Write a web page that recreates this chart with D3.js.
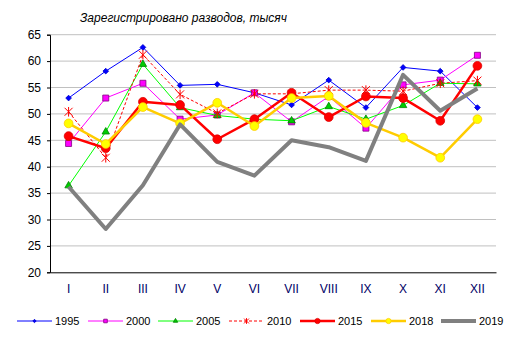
<!DOCTYPE html>
<html><head><meta charset="utf-8">
<script src="https://cdn.jsdelivr.net/npm/d3@7/dist/d3.min.js"></script>
<style>body{margin:0;background:#fff}svg{display:block;font-family:"Liberation Sans",Arial,sans-serif}</style>
</head><body><svg id="c" width="511" height="340"></svg>
<script>
const months = ["I","II","III","IV","V","VI","VII","VIII","IX","X","XI","XII"];
const yTicks = [20,25,30,35,40,45,50,55,60,65];
const years = ["1995","2000","2005","2010","2015","2018","2019"];
const v1995 = [53.0,58.1,62.6,55.4,55.6,54.0,51.7,56.4,51.2,58.8,58.1,51.2];
const v2000 = [44.4,53.0,55.8,49.0,49.8,54.0,48.5,53.3,47.3,55.5,56.4,61.1];
const v2005 = [36.4,46.6,59.4,51.2,49.7,49.0,48.7,51.4,49.0,51.6,55.8,55.7];
const v2010 = [50.4,41.7,61.2,53.7,50.1,53.8,53.8,54.5,54.5,54.3,55.8,56.3];
const v2015 = [45.8,43.5,52.3,51.7,45.2,49.0,54.0,49.4,53.3,53.0,48.7,59.1];
const v2018 = [48.2,44.3,51.3,48.2,52.1,47.7,53.0,53.4,48.3,45.5,41.7,49.0];
const v2019 = [36.2,28.2,36.5,48.0,40.9,38.3,45.0,43.7,41.1,57.4,50.6,54.8];

const series = [
  {name:years[0], values:v1995, color:"#0000ff", width:1, dash:null, marker:"diamond", fill:"#0000ff", stroke:"#0000cc", size:16},
  {name:years[1], values:v2000, color:"#ff00ff", width:1, dash:null, marker:"square", fill:"#ff00ff", stroke:"#800080", size:36},
  {name:years[2], values:v2005, color:"#00ff00", width:1, dash:null, marker:"triangle", fill:"#00cc00", stroke:"#008000", size:24},
  {name:years[3], values:v2010, color:"#ff0000", width:1, dash:"3,2", marker:"asterisk", fill:"none", stroke:"#ff0000", size:0},
  {name:years[4], values:v2015, color:"#ff0000", width:2.5, dash:null, marker:"circle", fill:"#ff0000", stroke:"#dd0000", size:60},
  {name:years[5], values:v2018, color:"#ffcc00", width:2.5, dash:null, marker:"circle", fill:"#ffff00", stroke:"#ffcc00", size:60},
  {name:years[6], values:v2019, color:"#808080", width:4, dash:null, marker:null}
];

const svg = d3.select("#c");
const m = {left:50, right:496, top:34.7, bottom:272.3};
const x = d3.scaleBand().domain(months).range([m.left, m.right]);
const y = d3.scaleLinear().domain([20,65]).range([m.bottom, m.top]);
const cx = d => x(d) + x.bandwidth()/2;

// horizontal gridlines
svg.append("g").selectAll("line").data(yTicks.filter(t=>t>20)).join("line")
  .attr("x1", m.left).attr("x2", m.right)
  .attr("y1", d=>y(d)).attr("y2", d=>y(d))
  .attr("stroke","#c0c0c0").attr("stroke-width",1);

// axes
const ya = svg.append("g").attr("transform",`translate(${m.left},0)`)
  .call(d3.axisLeft(y).tickValues(yTicks).tickSize(3).tickPadding(6));
ya.select(".domain").attr("stroke","#000");
ya.selectAll("text").attr("font-size",12).attr("fill","#000").attr("font-family","Liberation Sans, Arial, sans-serif");
const xa = svg.append("g").attr("transform",`translate(0,${m.bottom})`)
  .call(d3.axisBottom(x).tickSize(0).tickPadding(12));
xa.select(".domain").attr("stroke","#000");
xa.selectAll("text").attr("font-size",12).attr("fill","#000066").attr("font-family","Liberation Sans, Arial, sans-serif");

// title
svg.append("text").attr("x",80).attr("y",22).attr("font-size",12).attr("font-style","italic")
  .attr("fill","#000").text("Зарегистрировано разводов, тысяч");

const line = d3.line().x((d,i)=>cx(months[i])).y(d=>y(d));

function drawMarker(g, s, px, py, scale) {
  const k = scale || 1;
  if (!s.marker) return;
  if (s.marker === "asterisk") {
    const r = 4*k;
    const p = g.append("g").attr("stroke",s.stroke).attr("stroke-width",1);
    p.append("line").attr("x1",px-r).attr("x2",px+r).attr("y1",py-r).attr("y2",py+r);
    p.append("line").attr("x1",px-r).attr("x2",px+r).attr("y1",py+r).attr("y2",py-r);
    p.append("line").attr("x1",px).attr("x2",px).attr("y1",py-r*1.2).attr("y2",py+r*1.2);
    return;
  }
  const types = {diamond:d3.symbolSquare, square:d3.symbolSquare, triangle:d3.symbolTriangle, circle:d3.symbolCircle};
  const rot = s.marker === "diamond" ? " rotate(45)" : "";
  g.append("path").attr("d", d3.symbol(types[s.marker], s.size*k*k)())
    .attr("transform",`translate(${px},${py})${rot}`)
    .attr("fill",s.fill).attr("stroke",s.stroke).attr("stroke-width",0.8);
}

// series lines and markers
series.forEach(s => {
  const g = svg.append("g");
  g.append("path").attr("d", line(s.values)).attr("fill","none")
    .attr("stroke", s.color).attr("stroke-width", s.width)
    .attr("stroke-dasharray", s.dash).attr("stroke-linejoin","round");
  s.values.forEach((v,i) => drawMarker(g, s, cx(months[i]), y(v)));
});

// legend
const lx = [17,88,158,229,300,371,441];
const ly = 321;
series.forEach((s,i) => {
  const g = svg.append("g");
  g.append("line").attr("x1",lx[i]).attr("x2",lx[i]+35).attr("y1",ly).attr("y2",ly)
    .attr("stroke",s.color).attr("stroke-width",s.width).attr("stroke-dasharray",s.dash);
  drawMarker(g, s, lx[i]+17.5, ly, 0.6);
  g.append("text").attr("x",lx[i]+38).attr("y",ly+4).attr("font-size",11).attr("fill","#000").text(s.name);
});
</script></body></html>
